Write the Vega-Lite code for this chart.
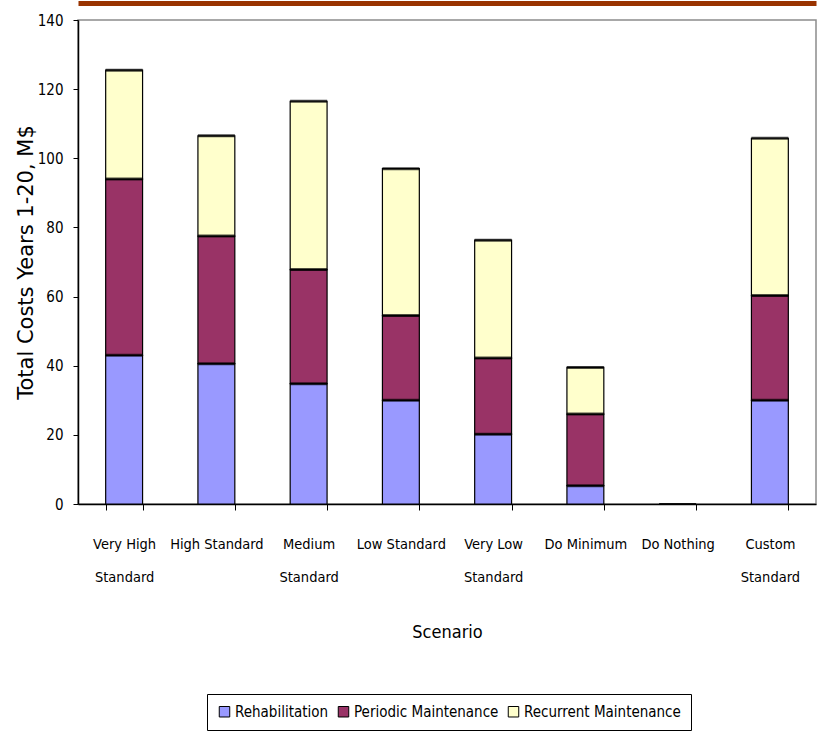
{
  "$schema": "https://vega.github.io/schema/vega-lite/v6.json",
  "width": 738,
  "height": 484,
  "autosize": {"type": "none"},
  "padding": {"left": 78, "top": 20, "right": 3, "bottom": 248},
  "background": "white",
  "config": {
    "view": {"stroke": "#8c8c8c", "strokeWidth": 1.5},
    "axis": {"grid": false, "domainColor": "black", "tickColor": "black", "labelColor": "black", "titleColor": "black"}
  },
  "data": {
    "values": [
      {"scenario": "Very High Standard", "component": "Rehabilitation", "cost": 43},
      {"scenario": "Very High Standard", "component": "Periodic Maintenance", "cost": 51},
      {"scenario": "Very High Standard", "component": "Recurrent Maintenance", "cost": 31.5},
      {"scenario": "High Standard", "component": "Rehabilitation", "cost": 40.6},
      {"scenario": "High Standard", "component": "Periodic Maintenance", "cost": 36.9},
      {"scenario": "High Standard", "component": "Recurrent Maintenance", "cost": 29},
      {"scenario": "Medium Standard", "component": "Rehabilitation", "cost": 34.8},
      {"scenario": "Medium Standard", "component": "Periodic Maintenance", "cost": 33},
      {"scenario": "Medium Standard", "component": "Recurrent Maintenance", "cost": 48.7},
      {"scenario": "Low Standard", "component": "Rehabilitation", "cost": 30},
      {"scenario": "Low Standard", "component": "Periodic Maintenance", "cost": 24.5},
      {"scenario": "Low Standard", "component": "Recurrent Maintenance", "cost": 42.5},
      {"scenario": "Very Low Standard", "component": "Rehabilitation", "cost": 20.2},
      {"scenario": "Very Low Standard", "component": "Periodic Maintenance", "cost": 22},
      {"scenario": "Very Low Standard", "component": "Recurrent Maintenance", "cost": 34.1},
      {"scenario": "Do Minimum", "component": "Rehabilitation", "cost": 5.3},
      {"scenario": "Do Minimum", "component": "Periodic Maintenance", "cost": 20.7},
      {"scenario": "Do Minimum", "component": "Recurrent Maintenance", "cost": 13.5},
      {"scenario": "Do Nothing", "component": "Rehabilitation", "cost": 0},
      {"scenario": "Do Nothing", "component": "Periodic Maintenance", "cost": 0},
      {"scenario": "Do Nothing", "component": "Recurrent Maintenance", "cost": 0},
      {"scenario": "Custom Standard", "component": "Rehabilitation", "cost": 30},
      {"scenario": "Custom Standard", "component": "Periodic Maintenance", "cost": 30.3},
      {"scenario": "Custom Standard", "component": "Recurrent Maintenance", "cost": 45.5}
    ]
  },
  "transform": [
    {"calculate": "indexof(['Rehabilitation', 'Periodic Maintenance', 'Recurrent Maintenance'], datum.component)", "as": "rank"}
  ],
  "resolve": {"axis": {"x": "independent"}},
  "layer": [
    {
      "mark": {"type": "bar", "stroke": "black", "strokeWidth": 1.2},
      "encoding": {
        "x": {
          "field": "scenario",
          "type": "nominal",
          "sort": null,
          "scale": {"paddingInner": 0.6, "paddingOuter": 0.3},
          "axis": {
            "orient": "bottom",
            "title": "Scenario",
            "titleFont": "DejaVu Sans Condensed",
            "titleFontSize": 18,
            "titleFontWeight": "normal",
            "titlePadding": 40,
            "labelFont": "DejaVu Sans Condensed",
            "labelFontSize": 14.5,
            "labelAngle": 0,
            "labelLimit": 0,
            "labelLineHeight": 33,
            "labelPadding": 27,
            "labelExpr": "datum.label == 'Very High Standard' ? ['Very High', 'Standard'] : datum.label == 'Medium Standard' ? ['Medium', 'Standard'] : datum.label == 'Very Low Standard' ? ['Very Low', 'Standard'] : datum.label == 'Custom Standard' ? ['Custom', 'Standard'] : datum.label",
            "tickBand": "extent",
            "tickSize": 6,
            "domainWidth": 1.5
          }
        },
        "y": {
          "field": "cost",
          "type": "quantitative",
          "stack": "zero",
          "scale": {"domain": [0, 140], "nice": false},
          "axis": {
            "values": [0, 20, 40, 60, 80, 100, 120, 140],
            "title": "Total Costs Years 1-20, M$",
            "titleFont": "DejaVu Sans",
            "titleFontSize": 21,
            "titleFontWeight": "normal",
            "titlePadding": 1,
            "labelFont": "DejaVu Sans Condensed",
            "labelFontSize": 15,
            "labelPadding": 10,
            "tickSize": 5,
            "domainWidth": 1.5
          }
        },
        "color": {
          "field": "component",
          "type": "nominal",
          "scale": {
            "domain": ["Rehabilitation", "Periodic Maintenance", "Recurrent Maintenance"],
            "range": ["#9999FF", "#993366", "#FFFFCC"]
          },
          "legend": {
            "title": null,
            "orient": "none",
            "direction": "horizontal",
            "legendX": 129,
            "legendY": 674,
            "strokeColor": "black",
            "fillColor": "white",
            "padding": 10,
            "symbolType": "square",
            "symbolSize": 110,
            "symbolStrokeColor": "black",
            "symbolStrokeWidth": 1,
            "symbolOpacity": 1,
            "labelFont": "DejaVu Sans Condensed",
            "labelFontSize": 15,
            "labelLimit": 0,
            "labelColor": "black",
            "labelOffset": 3,
            "columnPadding": 7
          }
        },
        "order": {"field": "rank", "type": "quantitative"}
      }
    },
    {
      "transform": [
        {"filter": "datum.cost > 0"},
        {"stack": "cost", "groupby": ["scenario"], "sort": [{"field": "rank", "order": "ascending"}], "as": ["lo", "hi"]}
      ],
      "mark": {"type": "tick", "color": "black", "thickness": 3, "size": 37},
      "encoding": {
        "x": {
          "field": "scenario",
          "type": "nominal",
          "sort": null,
          "axis": {"orient": "top", "offset": 17, "domainColor": "#993300", "domainWidth": 5, "labels": false, "ticks": false, "title": null}
        },
        "y": {"field": "hi", "type": "quantitative"}
      }
    }
  ]
}
